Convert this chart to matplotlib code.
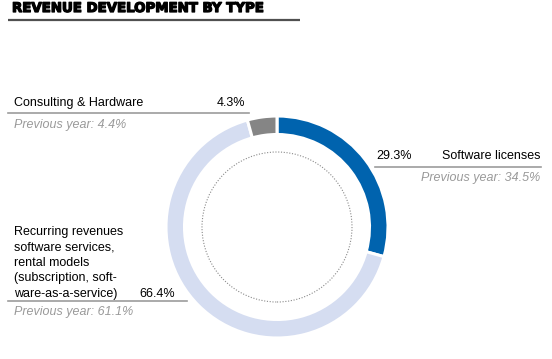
import matplotlib
matplotlib.use('Agg')
import matplotlib.pyplot as plt
import matplotlib.patheffects as pe
from matplotlib.patches import Circle

# revenue shares (%), clockwise from 12 o'clock
segments = ['Software licenses', 'Recurring revenues', 'Consulting & Hardware']
shares = [29.3, 66.4, 4.3]
prev_year = [34.5, 61.1, 4.4]
colors = ['#0063AE', '#D5DDF1', '#858585']

W, H = 552, 359
fig = plt.figure(figsize=(W / 100, H / 100), dpi=100)
ax = fig.add_axes([0, 0, 1, 1])
plt.rcParams['font.family'] = ['Liberation Sans', 'DejaVu Sans']

def Y(y):
    # pixel row -> data y (y up)
    return H - y

cx, cy, R = 277, Y(227), 111
ax.pie(shares, colors=colors, startangle=90, counterclock=False,
       radius=R, center=(cx, cy),
       wedgeprops=dict(width=18.5, edgecolor='white', linewidth=2.2))
ax.add_patch(Circle((cx, cy), 75, fill=False, ec='#8a8a8a', lw=0.8, ls=(0, (1, 1.5))))

ax.set_xlim(0, W)
ax.set_ylim(0, H)
ax.set_aspect('auto')
ax.axis('off')

# title
ax.text(12, Y(8.5), 'REVENUE DEVELOPMENT BY TYPE', fontsize=9.6, fontweight='heavy',
        family='DejaVu Sans', va='center', ha='left', color='black',
        path_effects=[pe.withStroke(linewidth=0.9, foreground='black')])
ax.plot([8, 300], [Y(19.5), Y(19.5)], color='#505050', lw=1.6, solid_capstyle='butt')

fs = 9.0
gray_txt = '#9a9a9a'
line_c = '#9c9c9c'

# Consulting & Hardware
ax.text(14, Y(103), segments[2], fontsize=fs, va='center', ha='left')
ax.text(245, Y(103), f'{shares[2]}%', fontsize=fs, va='center', ha='right')
ax.plot([8, 249], [Y(113), Y(113)], color=line_c, lw=1.2)
ax.text(14, Y(125), f'Previous year: {prev_year[2]}%', fontsize=fs, style='italic',
        color=gray_txt, va='center', ha='left')

# Software licenses
ax.text(376, Y(156), f'{shares[0]}%', fontsize=fs, va='center', ha='left')
ax.text(540, Y(156), segments[0], fontsize=fs, va='center', ha='right')
ax.plot([375, 541], [Y(167), Y(167)], color=line_c, lw=1.2)
ax.text(540, Y(178), f'Previous year: {prev_year[0]}%', fontsize=fs, style='italic',
        color=gray_txt, va='center', ha='right')

# Recurring revenues
rec_lines = ['Recurring revenues', 'software services,', 'rental models',
             '(subscription, soft-', 'ware-as-a-service)']
for i, t in enumerate(rec_lines):
    ax.text(14, Y(232 + i * 15.5), t, fontsize=fs, va='center', ha='left')
ax.text(175, Y(294), f'{shares[1]}%', fontsize=fs, va='center', ha='right')
ax.plot([8, 187], [Y(300.5), Y(300.5)], color=line_c, lw=1.2)
ax.text(14, Y(312), f'Previous year: {prev_year[1]}%', fontsize=fs, style='italic',
        color=gray_txt, va='center', ha='left')

fig.savefig('out.png', dpi=100, facecolor='white')
